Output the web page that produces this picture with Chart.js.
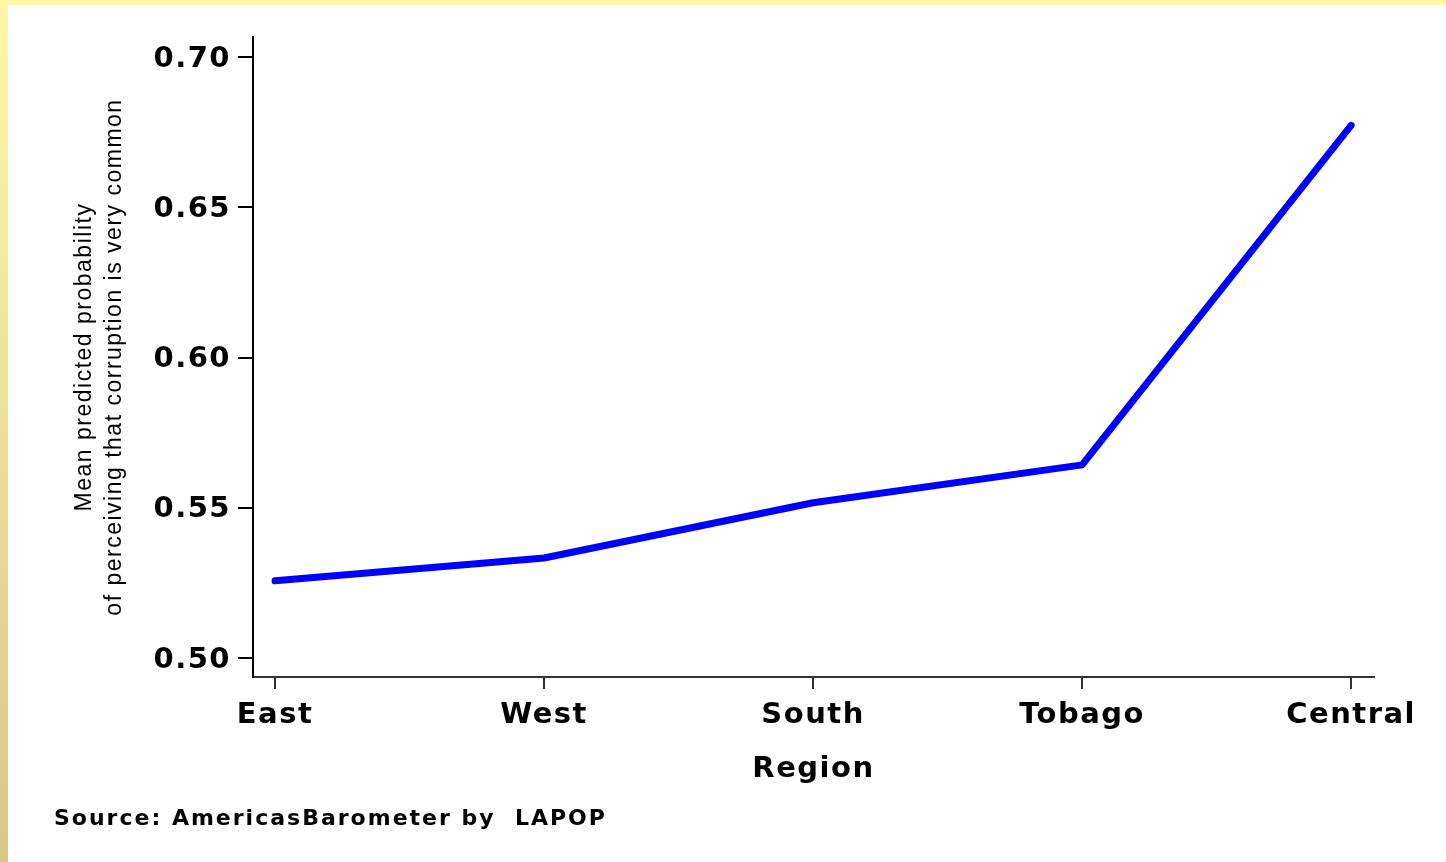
<!DOCTYPE html>
<html>
<head>
<meta charset="utf-8">
<title>Corruption perception by region</title>
<script src="https://cdn.jsdelivr.net/npm/chart.js@4.4.1/dist/chart.umd.min.js"></script>
<style>
  html, body { margin: 0; padding: 0; background: #fff; }
  #wrap { width: 1446px; height: 862px; position: relative; }
</style>
</head>
<body>
<div id="wrap"><canvas id="chart" width="1446" height="862"></canvas></div>
<script>
const regions = ["East", "West", "South", "Tobago", "Central"];
const meanProb = [0.5257, 0.5333, 0.5517, 0.5643, 0.6773];
const yTicks = [0.50, 0.55, 0.60, 0.65, 0.70];
const yTitle = ["Mean predicted probability", "of perceiving that corruption is very common"];
const xTitle = "Region";
const sourceNote = "Source: AmericasBarometer by  LAPOP";

const tickFont = { family: "DejaVu Sans", weight: "bold", size: 29 };
const spacing = "1.5px"; // text in this graph is set wide

// yellow frame on the top and left edges, plus the source line
const framePlugin = {
  id: "frame",
  beforeLayout(chart) {
    chart.ctx.letterSpacing = spacing;
  },
  beforeDraw(chart) {
    const ctx = chart.ctx;
    ctx.letterSpacing = spacing;
    ctx.save();
    ctx.fillStyle = "#fff";
    ctx.fillRect(0, 0, chart.width, chart.height);
    ctx.fillStyle = "#fff7a8";
    ctx.fillRect(0, 0, chart.width, 5);
    const g = ctx.createLinearGradient(0, 0, 0, chart.height);
    g.addColorStop(0, "#fff7a8");
    g.addColorStop(1, "#d9c68a");
    ctx.fillStyle = g;
    ctx.fillRect(0, 0, 8, chart.height);
    ctx.restore();
  },
  afterDraw(chart) {
    const ctx = chart.ctx;
    ctx.save();
    ctx.letterSpacing = "2px";
    ctx.font = "bold 22px 'DejaVu Sans'";
    ctx.fillStyle = "#000";
    ctx.textBaseline = "alphabetic";
    ctx.fillText(sourceNote, 54, 825);
    ctx.restore();
  }
};

new Chart(document.getElementById("chart"), {
  type: "line",
  data: {
    datasets: [{
      data: meanProb.map((v, i) => ({ x: i, y: v })),
      borderColor: "#0000ff",
      borderWidth: 7,
      borderCapStyle: "round",
      borderJoinStyle: "round",
      pointRadius: 0,
      tension: 0,
      fill: false
    }]
  },
  options: {
    responsive: false,
    animation: false,
    layout: { padding: { left: 10, top: 37, right: 72, bottom: 0 } },
    plugins: { legend: { display: false }, tooltip: { enabled: false } },
    scales: {
      x: {
        type: "linear",
        min: -0.082,
        max: 4.085,
        afterBuildTicks: s => { s.ticks = regions.map((_, i) => ({ value: i })); },
        afterFit: s => { s.height = 185; },
        grid: { drawOnChartArea: false, drawTicks: true, tickLength: 12, color: "#333", lineWidth: 2 },
        border: { display: true, color: "#333", width: 2 },
        ticks: { font: tickFont, color: "#000", padding: 9, maxRotation: 0, autoSkip: false,
                 callback: v => regions[v] },
        title: { display: true, text: xTitle, font: tickFont, color: "#000", padding: { bottom: 75 } }
      },
      y: {
        min: 0.4937,
        max: 0.7067,
        afterBuildTicks: s => { s.ticks = yTicks.map(v => ({ value: v })); },
        afterFit: s => { s.width = 243; },
        grid: { drawOnChartArea: false, drawTicks: true, tickLength: 15, color: "#000", lineWidth: 2 },
        border: { display: true, color: "#000", width: 2 },
        ticks: { font: tickFont, color: "#000", padding: 7, labelOffset: 2, callback: v => v.toFixed(2) },
        title: { display: true, text: yTitle, color: "#000",
                 font: { family: "Liberation Sans", size: 23, lineHeight: 1.3 }, padding: { top: 60 } }
      }
    }
  },
  plugins: [framePlugin]
});
</script>
</body>
</html>
